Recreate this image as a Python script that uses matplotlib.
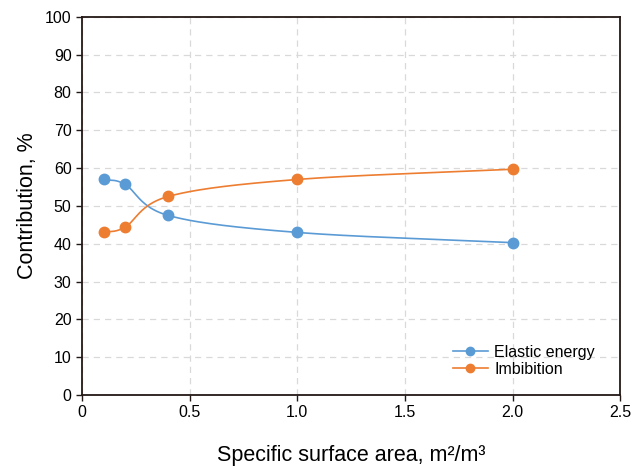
import numpy as np
import matplotlib
matplotlib.use("Agg")
import matplotlib.pyplot as plt

plt.rcParams['font.family'] = ['Liberation Sans', 'DejaVu Sans']

area = [0.1, 0.2, 0.4, 1.0, 2.0]
elastic = [57.0, 55.7, 47.5, 43.0, 40.3]
imbibition = [43.0, 44.4, 52.5, 57.0, 59.7]

x_ticks = [0, 0.5, 1.0, 1.5, 2.0, 2.5]
x_tick_labels = ["0", "0.5", "1.0", "1.5", "2.0", "2.5"]
y_ticks = list(range(0, 101, 10))


def smooth(xs, ys, n=40):
    # Catmull-Rom style curve through the points (like Excel smoothed lines)
    xs = np.asarray(xs, float)
    ys = np.asarray(ys, float)
    px = np.concatenate([[2 * xs[0] - xs[1]], xs, [2 * xs[-1] - xs[-2]]])
    py = np.concatenate([[2 * ys[0] - ys[1]], ys, [2 * ys[-1] - ys[-2]]])
    out_x, out_y = [], []
    t = np.linspace(0, 1, n)
    for i in range(1, len(px) - 2):
        p0x, p1x, p2x, p3x = px[i - 1:i + 3]
        p0y, p1y, p2y, p3y = py[i - 1:i + 3]
        b1x = p1x + (p2x - p0x) / 6
        b1y = p1y + (p2y - p0y) / 6
        b2x = p2x - (p3x - p1x) / 6
        b2y = p2y - (p3y - p1y) / 6
        bx = (1 - t) ** 3 * p1x + 3 * (1 - t) ** 2 * t * b1x + 3 * (1 - t) * t ** 2 * b2x + t ** 3 * p2x
        by = (1 - t) ** 3 * p1y + 3 * (1 - t) ** 2 * t * b1y + 3 * (1 - t) * t ** 2 * b2y + t ** 3 * p2y
        out_x.extend(bx)
        out_y.extend(by)
    return out_x, out_y


fig = plt.figure(figsize=(6.43, 4.67), dpi=100)
ax = fig.add_axes([0.1275, 0.154, 0.837, 0.81])

blue = "#5B9BD5"
orange = "#ED7D31"

for ys, col, lab in [(elastic, blue, "Elastic energy"), (imbibition, orange, "Imbibition")]:
    sx, sy = smooth(area, ys)
    ax.plot(sx, sy, color=col, lw=1.2, zorder=3)
    ax.plot(area, ys, "o", color=col, ms=7.5, zorder=4)
    ax.plot([], [], "-o", color=col, lw=1.2, ms=6, label=lab)

ax.set_xlim(0, 2.5)
ax.set_ylim(0, 100)
ax.set_xticks(x_ticks)
ax.set_xticklabels(x_tick_labels)
ax.set_yticks(y_ticks)
ax.tick_params(direction="out", length=4, width=1, labelsize=11.5, colors="#231815", labelcolor="black")
ax.grid(True, linestyle=(0, (5, 4)), color="#D9D9D9", lw=0.9)
ax.set_axisbelow(True)
for s in ax.spines.values():
    s.set_color("#231815")
    s.set_linewidth(1.3)

ax.set_xlabel("Specific surface area, m²/m³", fontsize=15.5, labelpad=18)
ax.set_ylabel("Contribution, %", fontsize=15.5, labelpad=5)

ax.legend(loc="lower right", bbox_to_anchor=(0.98, 0.01), frameon=False, fontsize=11.5,
          handlelength=2.2, handletextpad=0.4, labelspacing=0.15)

fig.savefig("out.png", dpi=100)
